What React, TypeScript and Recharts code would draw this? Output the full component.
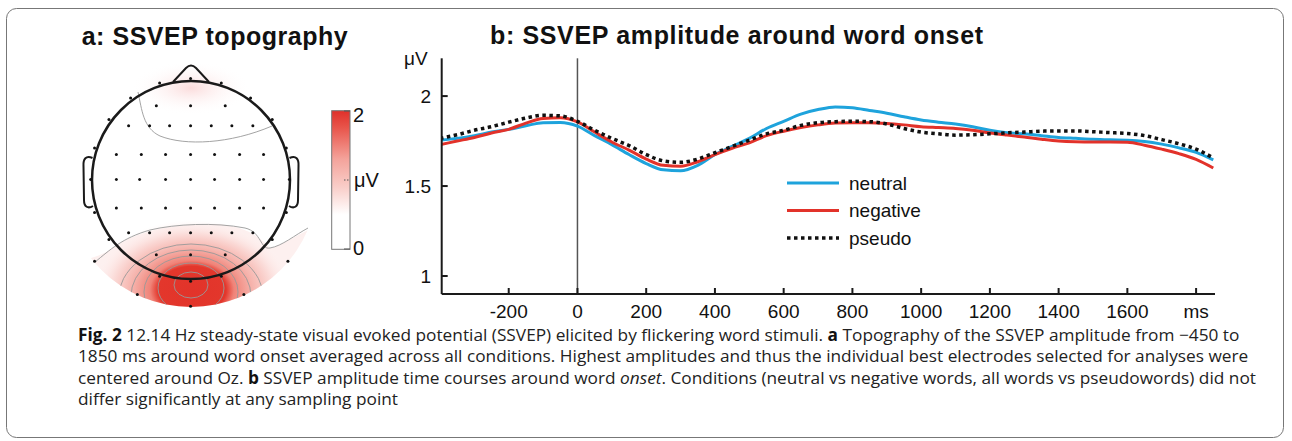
import React from "react";
import { LineChart, Line, XAxis, YAxis, ReferenceLine, Legend, ScatterChart, Scatter } from "recharts";

// time axis (ms) and SSVEP amplitude (µV) per condition
const times = [
  -400, -350, -300, -250, -200, -150, -100, -50, 0, 50, 100, 150, 200, 250, 300, 350, 400, 450, 500, 550,
  600, 650, 700, 750, 800, 850, 900, 950, 1000, 1050, 1100, 1150, 1200, 1250, 1300, 1350, 1400, 1450,
  1500, 1550, 1600, 1650, 1700, 1750, 1800, 1850,
];
const neutral = [
  1.755, 1.765, 1.78, 1.8, 1.815, 1.835, 1.852, 1.853, 1.833, 1.78, 1.73, 1.675, 1.625, 1.59, 1.585, 1.615,
  1.675, 1.72, 1.765, 1.82, 1.86, 1.9, 1.925, 1.94, 1.935, 1.92, 1.905, 1.885, 1.867, 1.855, 1.845, 1.83,
  1.81, 1.796, 1.79, 1.78, 1.77, 1.765, 1.76, 1.757, 1.755, 1.748, 1.733, 1.712, 1.687, 1.645,
];
const negative = [
  1.73, 1.75, 1.77, 1.795, 1.815, 1.85, 1.876, 1.88, 1.857, 1.8, 1.745, 1.7, 1.65, 1.615, 1.61, 1.635,
  1.675, 1.71, 1.74, 1.78, 1.805, 1.825, 1.84, 1.85, 1.852, 1.852, 1.848, 1.84, 1.83, 1.825, 1.82, 1.81,
  1.795, 1.783, 1.772, 1.76, 1.75, 1.746, 1.745, 1.745, 1.743, 1.727, 1.705, 1.68, 1.648, 1.6,
];
const pseudo = [
  1.765, 1.785, 1.81, 1.83, 1.855, 1.878, 1.893, 1.89, 1.86, 1.81, 1.765, 1.725, 1.675, 1.64, 1.632, 1.65,
  1.685, 1.72, 1.755, 1.79, 1.81, 1.837, 1.852, 1.858, 1.86, 1.858, 1.845, 1.82, 1.8, 1.79, 1.783, 1.785,
  1.79, 1.796, 1.8, 1.805, 1.806, 1.806, 1.802, 1.797, 1.792, 1.78, 1.758, 1.735, 1.705, 1.656,
];
const xTicks = [-200, 0, 200, 400, 600, 800, 1000, 1200, 1400, 1600, 1800];
const yTicks = [1, 1.5, 2];
const seriesNames = ["neutral", "negative", "pseudo"];
const seriesColors = ["#1ea3dc", "#e2322a", "#111111"];

// electrode positions in head units (radius 1, nose up)
const electrodePairs = [
  [0, 1.02], [-0.313, 0.977], [0.31, 0.977],
  [-0.606, 0.825], [0.606, 0.825],
  [-0.346, 0.747], [0, 0.747], [0.35, 0.747],
  [-0.825, 0.606], [0.825, 0.606],
  [-0.626, 0.545], [-0.414, 0.545], [-0.212, 0.545], [0, 0.545], [0.209, 0.545], [0.417, 0.545], [0.629, 0.545],
  [-0.97, 0.32], [0.967, 0.32],
  [-0.75, 0.253], [-0.498, 0.253], [-0.253, 0.253], [0, 0.253], [0.242, 0.253], [0.495, 0.253], [0.737, 0.253],
  [-1.01, 0], [-0.75, 0], [-0.515, 0], [-0.253, 0], [0, 0], [0.242, 0], [0.495, 0], [0.737, 0], [0.997, 0],
  [-0.75, -0.286], [-0.498, -0.286], [-0.253, -0.286], [0, -0.286], [0.242, -0.286], [0.495, -0.286], [0.737, -0.286],
  [-0.97, -0.333], [0.967, -0.333],
  [-0.626, -0.538], [-0.414, -0.538], [-0.212, -0.538], [0, -0.538], [0.209, -0.538], [0.417, -0.538], [0.629, -0.538],
  [-0.825, -0.606], [0.825, -0.606],
  [-0.346, -0.758], [0, -0.758], [0.35, -0.758],
  [-0.97, -0.825], [0.983, -0.825],
  [-0.313, -0.977], [0.31, -0.977], [0, -1.027],
  [-0.538, -1.16], [0.538, -1.16], [0, -1.28],
];

const data = times.map((t, i) => ({ t, neutral: neutral[i], negative: negative[i], pseudo: pseudo[i] }));
const electrodes = electrodePairs.map(([x, y]) => ({ x, y }));

const FONT = "'Liberation Sans', Arial, Helvetica, sans-serif";
const CAP = "'Open Sans', 'Noto Sans', sans-serif";

function LegendBox() {
  return (
    <svg width={160} height={80} style={{ display: "block" }}>
      {seriesNames.map((n, i) => {
        const y = 10 + 27.5 * i;
        return (
          <g key={n}>
            <line x1={0} x2={52} y1={y} y2={y} stroke={seriesColors[i]} strokeWidth={i === 2 ? 3.5 : 3}
              strokeDasharray={i === 2 ? "3.5 3.5" : undefined} />
            <text x={62} y={y} dy="0.35em" fontSize={19} fontFamily={FONT} fill="#111">{n}</text>
          </g>
        );
      })}
    </svg>
  );
}

function Background() {
  return (
    <svg width={1292} height={441} style={{ position: "absolute", left: 0, top: 0 }}>
      <defs>
        <clipPath id="mapClip"><circle cx={191} cy={180} r={127} /></clipPath>
        <radialGradient id="blob" gradientUnits="userSpaceOnUse" cx={192} cy={290} r={100}
          gradientTransform="translate(0 290) scale(1 0.7) translate(0 -290)">
          <stop offset="0" stopColor="#e2332a" />
          <stop offset="0.34" stopColor="#e3372c" />
          <stop offset="0.42" stopColor="#f08378" />
          <stop offset="0.6" stopColor="#f6b3ac" />
          <stop offset="0.8" stopColor="#fbdcd9" />
          <stop offset="1" stopColor="#fff4f3" stopOpacity="0" />
        </radialGradient>
        <radialGradient id="front" gradientUnits="userSpaceOnUse" cx={191} cy={88} r={60}
          gradientTransform="translate(0 88) scale(1 0.45) translate(0 -88)">
          <stop offset="0" stopColor="#fbdcdc" />
          <stop offset="1" stopColor="#ffffff" stopOpacity="0" />
        </radialGradient>
        <linearGradient id="cbar" x1="0" y1="0" x2="0" y2="1">
          <stop offset="0" stopColor="#e0302a" />
          <stop offset="0.12" stopColor="#e8544a" />
          <stop offset="0.35" stopColor="#f4a39b" />
          <stop offset="0.55" stopColor="#f9cdc8" />
          <stop offset="0.75" stopColor="#ffffff" />
          <stop offset="1" stopColor="#ffffff" />
        </linearGradient>
      </defs>

      <rect x={6.5} y={8.5} width={1277} height={429} rx={10} fill="none" stroke="#777" strokeWidth={1} />

      <text x={81.7} y={45} fontSize={25} fontWeight="bold" fontFamily={FONT} textLength={266} fill="#111">a: SSVEP topography</text>
      <text x={490} y={43.5} fontSize={25} fontWeight="bold" fontFamily={FONT} textLength={493} fill="#111">b: SSVEP amplitude around word onset</text>

      {/* topography */}
      <g clipPath="url(#mapClip)">
        <ellipse cx={191} cy={88} rx={60} ry={27} fill="url(#front)" />
        <path d="M60,262 C95,262 110,250 122,242 C140,232 170,224 215,224 C250,226 262,240 270,248 C282,246 295,235 330,220 L330,320 L60,320 Z" fill="#fdf0ef" />
        <rect x={60} y={180} width={270} height={140} fill="url(#blob)" />
        <g fill="none" stroke="#999" strokeWidth={0.9}>
          <path d="M138,92 C142,110 143,128 160,136 C185,146 230,144 272,126" />
          <path d="M95,262 C110,250 122,238 150,230 C175,224 215,222 245,228 C262,232 260,250 270,248 C282,246 295,235 308,228" />
          <ellipse cx={191} cy={285} rx={17} ry={13} />
          <ellipse cx={191} cy={288} rx={33} ry={25} />
          <ellipse cx={191} cy={292} rx={47} ry={36} />
          <ellipse cx={191} cy={296} rx={60} ry={46} />
          <ellipse cx={191} cy={300} rx={73} ry={56} />
        </g>
      </g>
      <g fill="none" stroke="#1a1a1a">
        <circle cx={191} cy={180} r={99} strokeWidth={2.5} />
        <path d="M173,82 L186,68 Q191,63 196,68 L209,82" strokeWidth={2} />
        <path d="M92.5,158 C86,155 83,159 83.5,166 L84,200 C84,207 88,209 93,206" strokeWidth={2} />
        <path d="M289.5,158 C296,155 299,159 298.5,166 L298,200 C298,207 294,209 289,206" strokeWidth={2} />
      </g>

      {/* colour bar */}
      <rect x={331.7} y={110.7} width={18.3} height={138.6} fill="url(#cbar)" stroke="#777" strokeWidth={1} />
      <g stroke="#555" strokeWidth={1}>
        <line x1={344} x2={350} y1={111} y2={111} />
        <line x1={344} x2={350} y1={180} y2={180} strokeDasharray="1.5 1.5" />
        <line x1={344} x2={350} y1={249} y2={249} />
      </g>
      <g fontSize={20} fontFamily={FONT} fill="#111">
        <text x={353} y={122}>2</text>
        <text x={354} y={187}>μV</text>
        <text x={353} y={255}>0</text>
      </g>

      <text x={404} y={65} fontSize={19} fontFamily={FONT} fill="#111">μV</text>

      {/* caption */}
      <g transform="translate(78 0) scale(1.016 1)" fontSize={17} fontFamily={CAP} fill="#222">
        <text x={0} y={341}>
          <tspan fontWeight="bold" fill="#111">Fig. 2</tspan>
          {"  12.14 Hz steady-state visual evoked potential (SSVEP) elicited by flickering word stimuli. "}
          <tspan fontWeight="bold" fill="#111">a</tspan>
          {" Topography of the SSVEP amplitude from −450 to"}
        </text>
        <text x={0} y={362.5}>
          1850 ms around word onset averaged across all conditions. Highest amplitudes and thus the individual best electrodes selected for analyses were
        </text>
        <text x={0} y={384}>
          {"centered around Oz. "}
          <tspan fontWeight="bold" fill="#111">b</tspan>
          {" SSVEP amplitude time courses around word "}
          <tspan fontStyle="italic">onset</tspan>
          {". Conditions (neutral vs negative words, all words vs pseudowords) did not"}
        </text>
        <text x={0} y={405.5}>differ significantly at any sampling point</text>
      </g>
    </svg>
  );
}

export default function App() {
  const tickStyle = { fontSize: 19, fontFamily: FONT, fill: "#111" };
  return (
    <div style={{ position: "absolute", left: 0, top: 0, width: 1292, height: 441, background: "#fff" }}>
      <Background />

      <div style={{ position: "absolute", left: 380, top: 0 }}>
        <LineChart width={880} height={340} data={data} margin={{ top: 58.3, right: 45, left: 1.7, bottom: 16 }}>
          <XAxis dataKey="t" type="number" domain={[-395, 1855]} allowDataOverflow ticks={xTicks}
            tickFormatter={(v: number) => (v === 1800 ? "ms" : String(v))} height={30}
            tickSize={-6} tickMargin={17} tick={tickStyle} stroke="#1a1a1a" strokeWidth={2} interval={0} />
          <XAxis xAxisId="top" orientation="top" type="number" domain={[-395, 1855]} ticks={xTicks} height={0}
            tick={false} tickSize={-6} stroke="#1a1a1a" strokeWidth={2} interval={0} />
          <YAxis type="number" domain={[0.9, 2.21]} allowDataOverflow ticks={yTicks} width={60}
            tickSize={-6} tickMargin={16.7} tick={tickStyle} stroke="#1a1a1a" strokeWidth={2} interval={0} />
          <YAxis yAxisId="r" orientation="right" type="number" domain={[0.9, 2.21]} ticks={yTicks} width={0}
            tick={false} tickSize={-6} stroke="#1a1a1a" strokeWidth={2} interval={0} />
          <ReferenceLine x={0} stroke="#555" strokeWidth={1.5} />
          <Line type="monotone" dataKey="neutral" stroke={seriesColors[0]} strokeWidth={3} dot={false} isAnimationActive={false} />
          <Line type="monotone" dataKey="negative" stroke={seriesColors[1]} strokeWidth={3} dot={false} isAnimationActive={false} />
          <Line type="monotone" dataKey="pseudo" stroke={seriesColors[2]} strokeWidth={3.5} strokeDasharray="3.5 3.5"
            dot={false} isAnimationActive={false} />
          <Legend layout="vertical" align="center" verticalAlign="middle" content={() => <LegendBox />}
            wrapperStyle={{ left: 406.7, top: 173.3, width: 160 }} />
        </LineChart>
      </div>

      <div style={{ position: "absolute", left: 52.4, top: 41.4 }}>
        <ScatterChart width={277.2} height={277.2} margin={{ top: 0, right: 0, bottom: 0, left: 0 }}>
          <XAxis dataKey="x" type="number" domain={[-1.4, 1.4]} hide />
          <YAxis dataKey="y" type="number" domain={[-1.4, 1.4]} hide />
          <Scatter data={electrodes} isAnimationActive={false}
            shape={(p: any) => <circle cx={p.cx} cy={p.cy} r={1.5} fill="#111" />} />
        </ScatterChart>
      </div>
    </div>
  );
}
